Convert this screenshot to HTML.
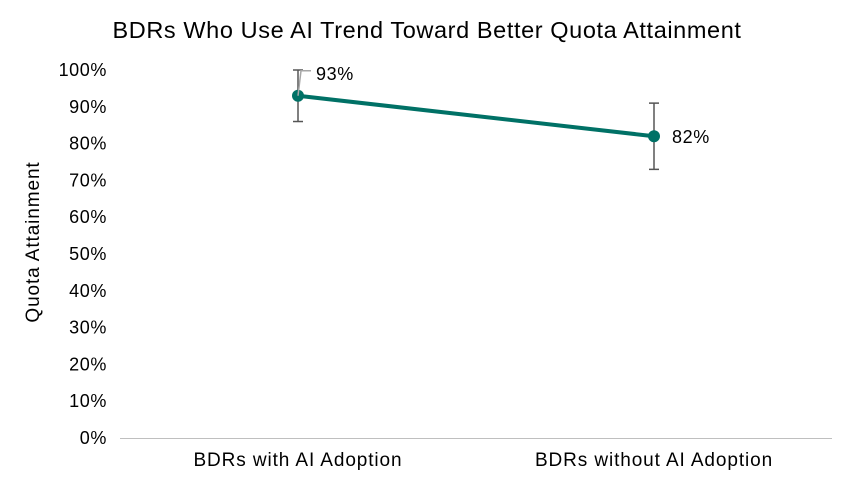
<!DOCTYPE html>
<html><head><meta charset="utf-8"><style>
body{margin:0;background:#fff;width:854px;height:484px;overflow:hidden;font-family:"Liberation Sans",sans-serif}
</style></head><body>
<svg width="854" height="484" font-family="Liberation Sans, sans-serif">
<text x="427" y="38" text-anchor="middle" font-size="23.5" letter-spacing="0.6" fill="#000">BDRs Who Use AI Trend Toward Better Quota Attainment</text>
<text transform="translate(39,242) rotate(-90)" text-anchor="middle" font-size="19" letter-spacing="0.9" fill="#000">Quota Attainment</text>
<g id="yticks"></g>
<line x1="120" y1="438.5" x2="832" y2="438.5" stroke="#bfbfbf" stroke-width="1"/>
<g id="xlabels"></g>
<g id="series"></g>
</svg>
<script>
const categories=["BDRs with AI Adoption","BDRs without AI Adoption"];
const values=[93,82];
const errLow=[86,73];
const errHigh=[100,91];
const valueLabels=["93%","82%"];
const yTicks=[0,10,20,30,40,50,60,70,80,90,100];
const NS="http://www.w3.org/2000/svg";
const x0=120,x1=832,yTop=70,yBot=438;
const y=v=>yBot-(v/100)*(yBot-yTop);
const x=i=>x0+(i+0.5)*(x1-x0)/categories.length;
function mk(t,a,p){const e=document.createElementNS(NS,t);for(const k in a)e.setAttribute(k,a[k]);p.appendChild(e);return e;}
const yt=document.getElementById('yticks');
yTicks.forEach(v=>{const t=mk('text',{x:107,y:y(v)+6,'text-anchor':'end','font-size':18,'letter-spacing':0.6,fill:'#000'},yt);t.textContent=v+'%';

});
const xl=document.getElementById('xlabels');
categories.forEach((c,i)=>{const t=mk('text',{x:x(i),y:466,'text-anchor':'middle','font-size':19,'letter-spacing':0.9,fill:'#000'},xl);t.textContent=c;

});
const s=document.getElementById('series');
const pl=mk('polyline',{points:values.map((v,i)=>x(i)+','+y(v)).join(' '),fill:'none',stroke:'#007166','stroke-width':4},s);


values.forEach((v,i)=>{
 const g=mk('g',{},s);
 
 
 mk('line',{x1:x(i),x2:x(i),y1:y(errHigh[i]),y2:y(errLow[i]),stroke:'#555','stroke-width':1.5},g);
 mk('line',{x1:x(i)-5,x2:x(i)+5,y1:y(errHigh[i]),y2:y(errHigh[i]),stroke:'#555','stroke-width':1.5},g);
 mk('line',{x1:x(i)-5,x2:x(i)+5,y1:y(errLow[i]),y2:y(errLow[i]),stroke:'#555','stroke-width':1.5},g);
 const c=mk('circle',{cx:x(i),cy:y(v),r:6,fill:'#007166'},s);
 
 
 let t;
 if(i===0){
  mk('polyline',{points:x(i)+','+y(v)+' '+(x(i)+3)+','+(y(v)-25)+' '+(x(i)+13)+','+(y(v)-25),fill:'none',stroke:'#a6a6a6','stroke-width':1.5},s);
  t=mk('text',{x:x(i)+18,y:y(v)-16,'font-size':18,'letter-spacing':0.6,fill:'#000'},s);
 } else {
  t=mk('text',{x:x(i)+18,y:y(v)+7,'font-size':18,'letter-spacing':0.6,fill:'#000'},s);
 }
 t.textContent=valueLabels[i];
 
 
});
</script>
</body></html>
